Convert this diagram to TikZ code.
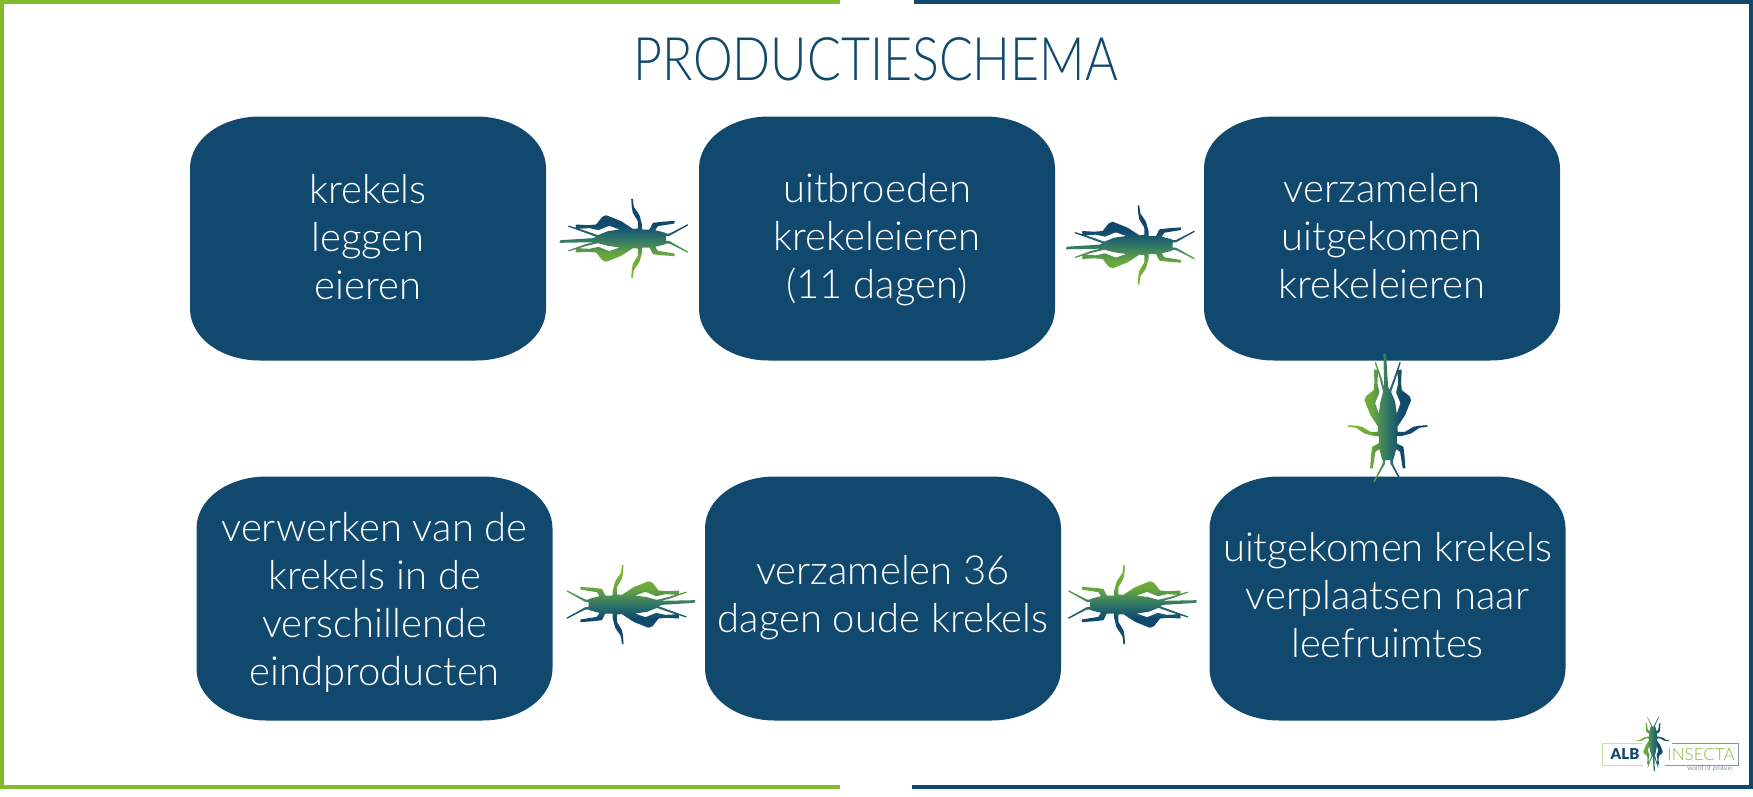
\documentclass[tikz,border=0pt]{standalone}
\usepackage{fontspec}
\usetikzlibrary{calc}
\setmainfont{Lato Light}
\newfontfamily\titlefont[FakeStretch=0.835]{Lato Light}
\newfontfamily\logobold{Lato Black}
\definecolor{navy}{HTML}{10486E}
\definecolor{lime}{HTML}{80BC2D}
\definecolor{midgreen}{HTML}{2F7468}
\pgfdeclareverticalshading{crick}{100bp}{
  color(0bp)=(lime); color(27bp)=(lime); color(40bp)=(lime!70!midgreen); color(50bp)=(midgreen);
  color(59bp)=(navy); color(100bp)=(navy)}
\tikzset{
  stepbox/.style={text=white,minimum width=356pt,minimum height=244pt,yshift=-#1pt,
    align=center,inner sep=0pt,font=\fontsize{40}{48}\selectfont,
    execute at begin node={\rule{0pt}{34pt}},execute at end node={\rule[-14pt]{0pt}{14pt}}},
  edgeline/.style={line width=4.5pt}
}
\newcommand{\stepshape}[1]{%
  \begin{scope}[shift={(#1)}]
  \fill[navy] (-178,-70) .. controls (-178,-99) and (-147,-122) .. (-108,-122) -- (108,-122)
    .. controls (147,-122) and (178,-99) .. (178,-70) -- (178,70)
    .. controls (178,99) and (147,122) .. (108,122) -- (-108,122)
    .. controls (-147,122) and (-178,99) .. (-178,70) -- cycle;
  \end{scope}}
\newcommand{\cricket}[4]{%
  \begin{scope}[shift={(#1)},x=#3*0.3333pt,y=-#3*0.3333pt,rotate=#2]
  \shade[shading=crick,shading angle=#4,rounded corners=0.5pt]
  (-195,9)--(-192,5)--(-95,-1)--(-85,-5)--(-120,-18)--(-170,-36)--(-168,-39)--(-120,-24)--(-80,-10)--(-50,-22)--(-14,-27)--
  (-46,-38)--(-78,-25)--(-105,-31)--(-145,-29)--(-147,-42)--(-110,-40)--(-85,-42)--(-67,-65)--(-55,-70)--(-10,-52)--(25,-29)--
  (40,-30)--(40,-52)--(25,-77)--(22,-92)--(20,-119)--(25,-119)--(28,-95)--(45,-70)--(53,-40)--(53,-27)--(75,-27)--(85,-47)--(110,-50)--(150,-53)--(150,-45)--(100,-37)--(92,-25)--(120,-18)--
  (125,-15)--(135,-15)--(190,-43)--(192,-40)--(135,-8)--(125,-8)--(125,8)--(135,8)--(192,40)--(190,43)--(135,15)--(125,15)--(120,18)--
  (92,25)--(100,37)--(150,45)--(150,53)--(110,50)--(85,47)--(75,27)--(53,27)--(53,40)--(45,70)--(28,95)--(25,119)--(20,119)--(22,92)--(25,77)--(40,52)--(40,30)--(25,29)--
  (-10,52)--(-55,70)--(-67,65)--(-85,42)--(-110,40)--(-147,42)--(-145,29)--(-105,31)--(-78,25)--(-46,38)--(-14,27)--
  (-50,22)--(-80,14)--(-120,24)--(-168,39)--(-170,36)--(-120,18)--(-85,9)--(-92,11)--(-195,13)--cycle;
  \end{scope}}
\begin{document}
\begin{tikzpicture}[x=1pt,y=-1pt]
\useasboundingbox (0,0) rectangle (1753,796);
% frame
\draw[edgeline,lime] (840,2) -- (2,2) -- (2,787) -- (840,787);
\draw[edgeline,navy] (914,2) -- (1751,2) -- (1751,787) -- (912,787);
% title
\node[text=navy,inner sep=0pt,font=\titlefont\fontsize{60}{60}\selectfont] (title) at (876,59) {PRODUCTIESCHEMA};
% steps
\stepshape{368,238.5}\stepshape{877,238.5}\stepshape{1382,238.5}
\stepshape{1387.5,598.5}\stepshape{883,598.5}\stepshape{374.5,598.5}
\node[stepbox=5.5] (a) at (368,238.5) {krekels\\leggen\\eieren};
\node[stepbox=4.5] (b) at (877,238.5) {uitbroeden\\krekeleieren\\(11 dagen)};
\node[stepbox=4.5] (c) at (1382,238.5) {verzamelen\\uitgekomen\\krekeleieren};
\node[stepbox=3.4] (d) at (1387.5,598.5) {uitgekomen krekels\\verplaatsen naar\\leefruimtes};
\node[stepbox=2.2] (e) at (883,598.5) {verzamelen 36\\dagen oude krekels};
\node[stepbox=7.8] (f) at (374.5,598.5) {verwerken van de\\krekels in de\\verschillende\\eindproducten};
% crickets
\cricket{$(a.east)!0.5!(b.west)+(2,-5)$}{0}{1}{0}
\cricket{$(b.east)!0.5!(c.west)+(1.5,2)$}{0}{1}{0}
\cricket{$(c.south)!0.5!(d.north)+(3,-4)$}{-90}{1}{-90}
\cricket{$(e.east)!0.5!(d.west)+(-3.5,3.2)$}{180}{1}{180}
\cricket{$(f.east)!0.5!(e.west)+(1.5,1)$}{180}{1}{180}
% logo
\draw[lime!45,line width=1pt] (1643,743) -- (1602,743) -- (1602,765) -- (1643,765);
\draw[navy!55,line width=0.8pt] (1672,743) -- (1738,743) -- (1738,765) -- (1665,765);
\node[text=navy,inner sep=0pt,font=\logobold\fontsize{15}{15}\selectfont] (alb) at (1625,754) {ALB};
\node[text=lime,inner sep=0pt,font=\fontsize{17}{17}\selectfont] (insecta) at (1701,754) {INSECTA};
\node[text=navy,inner sep=0pt,font=\fontsize{6.5}{7}\selectfont] (wop) at (1710,769) {world of protein};
\cricket{1653,744}{90}{0.42}{-90}
\end{tikzpicture}
\end{document}
